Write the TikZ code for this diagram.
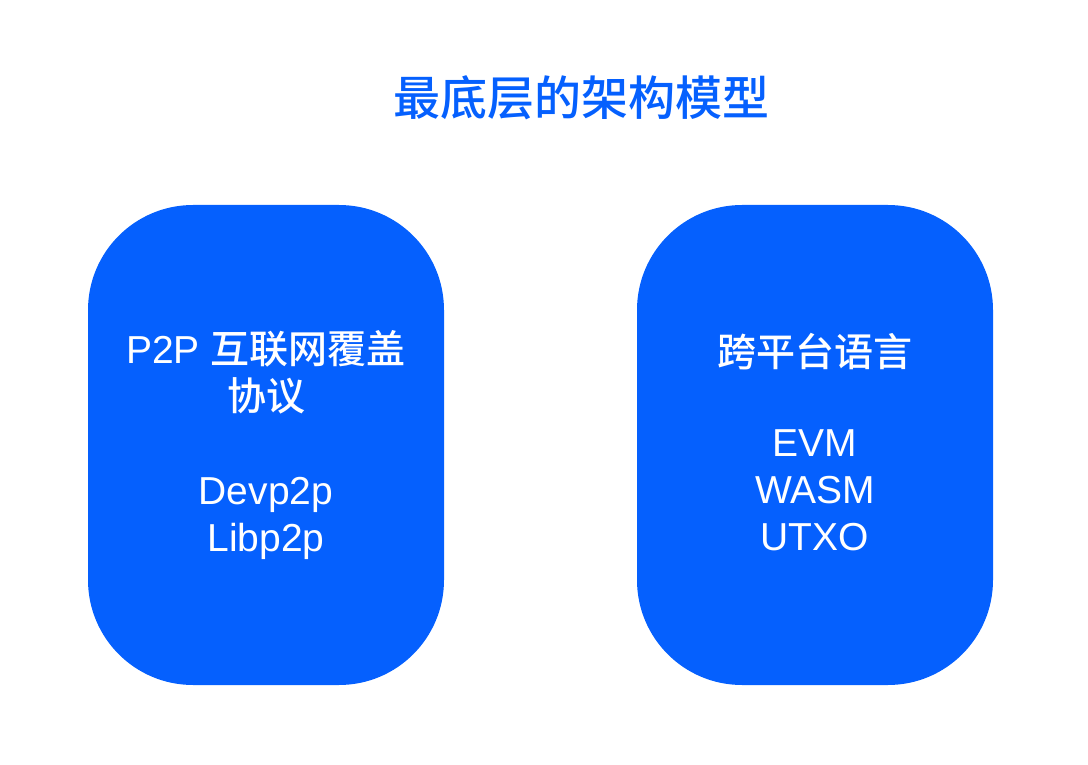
\documentclass[tikz,border=0pt]{standalone}
\usepackage{fontspec}
\setmainfont{Liberation Sans}
\newfontfamily\cjk{Noto Sans CJK SC Medium}
\definecolor{boxblue}{HTML}{0560FE}

\newcommand{\pxsc}[0]{1pt}

\begin{document}
\begin{tikzpicture}[x=\pxsc, y=-\pxsc,
  layerbox/.style={fill=boxblue, text=white, rounded corners=105pt,
    minimum width=356pt, minimum height=480pt, align=center,
    font=\fontsize{39}{47}\selectfont}]

\useasboundingbox (0,0) rectangle (1088,765);

\node[text=boxblue, font=\cjk\fontsize{47}{50}\selectfont] (title) at (581,98) {最底层的架构模型};

\node[layerbox] (p2p) at (266,445)
  {P2P {\cjk 互联网覆盖}\\{\cjk 协议}\\[47pt]Devp2p\\Libp2p};

\node[layerbox] (lang) at (815,445) {};
\node[text=white, align=center, font=\fontsize{39}{47}\selectfont] (langtxt) at (815,442)
  {{\cjk 跨平台语言}\\[43pt]EVM\\WASM\\UTXO};

\end{tikzpicture}
\end{document}
